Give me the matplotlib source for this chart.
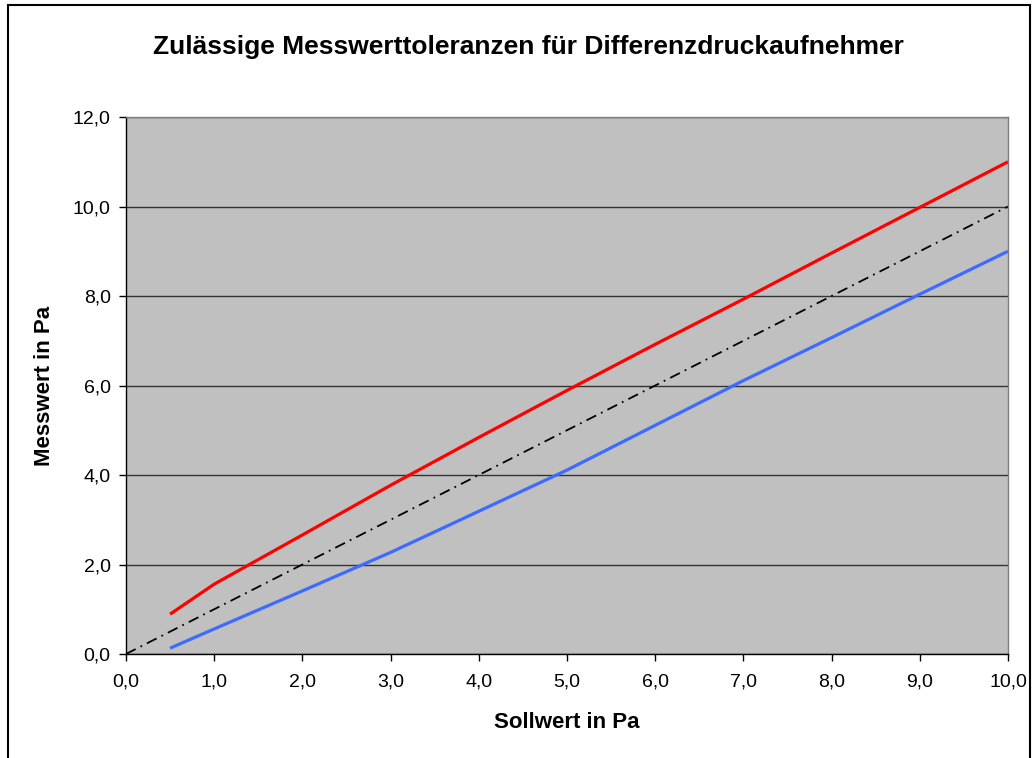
import matplotlib.pyplot as plt
from matplotlib.ticker import FuncFormatter, MultipleLocator
from matplotlib.patches import Rectangle

plt.rcParams['font.family'] = ['Liberation Sans', 'DejaVu Sans']

soll = [0.5, 1, 2, 3, 4, 5, 6, 7, 8, 9, 10]
upper = [0.89, 1.56, 2.66, 3.77, 4.84, 5.89, 6.92, 7.93, 8.96, 9.98, 11.0]
lower = [0.13, 0.56, 1.41, 2.27, 3.19, 4.11, 5.11, 6.11, 7.07, 8.04, 9.0]
ideal_x = [0, 10]
ideal_y = [0, 10]

fig = plt.figure(figsize=(10.35, 7.58), dpi=100)
ax = fig.add_axes([0.1217, 0.1372, 0.8522, 0.7084])
ax.set_facecolor('#C0C0C0')

ax.plot(ideal_x, ideal_y, color='black', lw=1.3, linestyle=(0, (6, 3, 1, 3)))
ax.plot(soll, upper, color='#FF0000', lw=2.3, solid_capstyle='butt')
ax.plot(soll, lower, color='#3D6BFF', lw=2.3, solid_capstyle='butt')

ax.set_xlim(0, 10)
ax.set_ylim(0, 12)
ax.xaxis.set_major_locator(MultipleLocator(1))
ax.yaxis.set_major_locator(MultipleLocator(2))
fmt = FuncFormatter(lambda v, p: f"{v:.1f}".replace('.', ','))
ax.xaxis.set_major_formatter(fmt)
ax.yaxis.set_major_formatter(fmt)
ax.tick_params(direction='out', length=5, width=1, labelsize=14)
ax.tick_params(axis='x', pad=9)
ax.tick_params(axis='y', pad=6)
ax.grid(axis='y', color='#333333', lw=1)
ax.set_axisbelow(True)

for s in ['top', 'right']:
    ax.spines[s].set_color('#808080')
    ax.spines[s].set_linewidth(1)
for s in ['left', 'bottom']:
    ax.spines[s].set_color('black')
    ax.spines[s].set_linewidth(1)

ax.set_xlabel('Sollwert in Pa', fontsize=16, fontweight='bold', va='center')
ax.set_ylabel('Messwert in Pa', fontsize=16, fontweight='bold', va='center')
ax.xaxis.set_label_coords(0.5, -0.127)
ax.yaxis.set_label_coords(-0.092, 0.5)

fig.text(0.511, 0.938, 'Zulässige Messwerttoleranzen für Differenzdruckaufnehmer',
         ha='center', va='center', fontsize=19, fontweight='bold')

fig.patches.append(Rectangle((8 / 1035, -0.05), 1022 / 1035, 1.05 - 5 / 758,
                             transform=fig.transFigure, fill=False,
                             edgecolor='black', lw=1.5))

fig.savefig('out.png', dpi=100)
